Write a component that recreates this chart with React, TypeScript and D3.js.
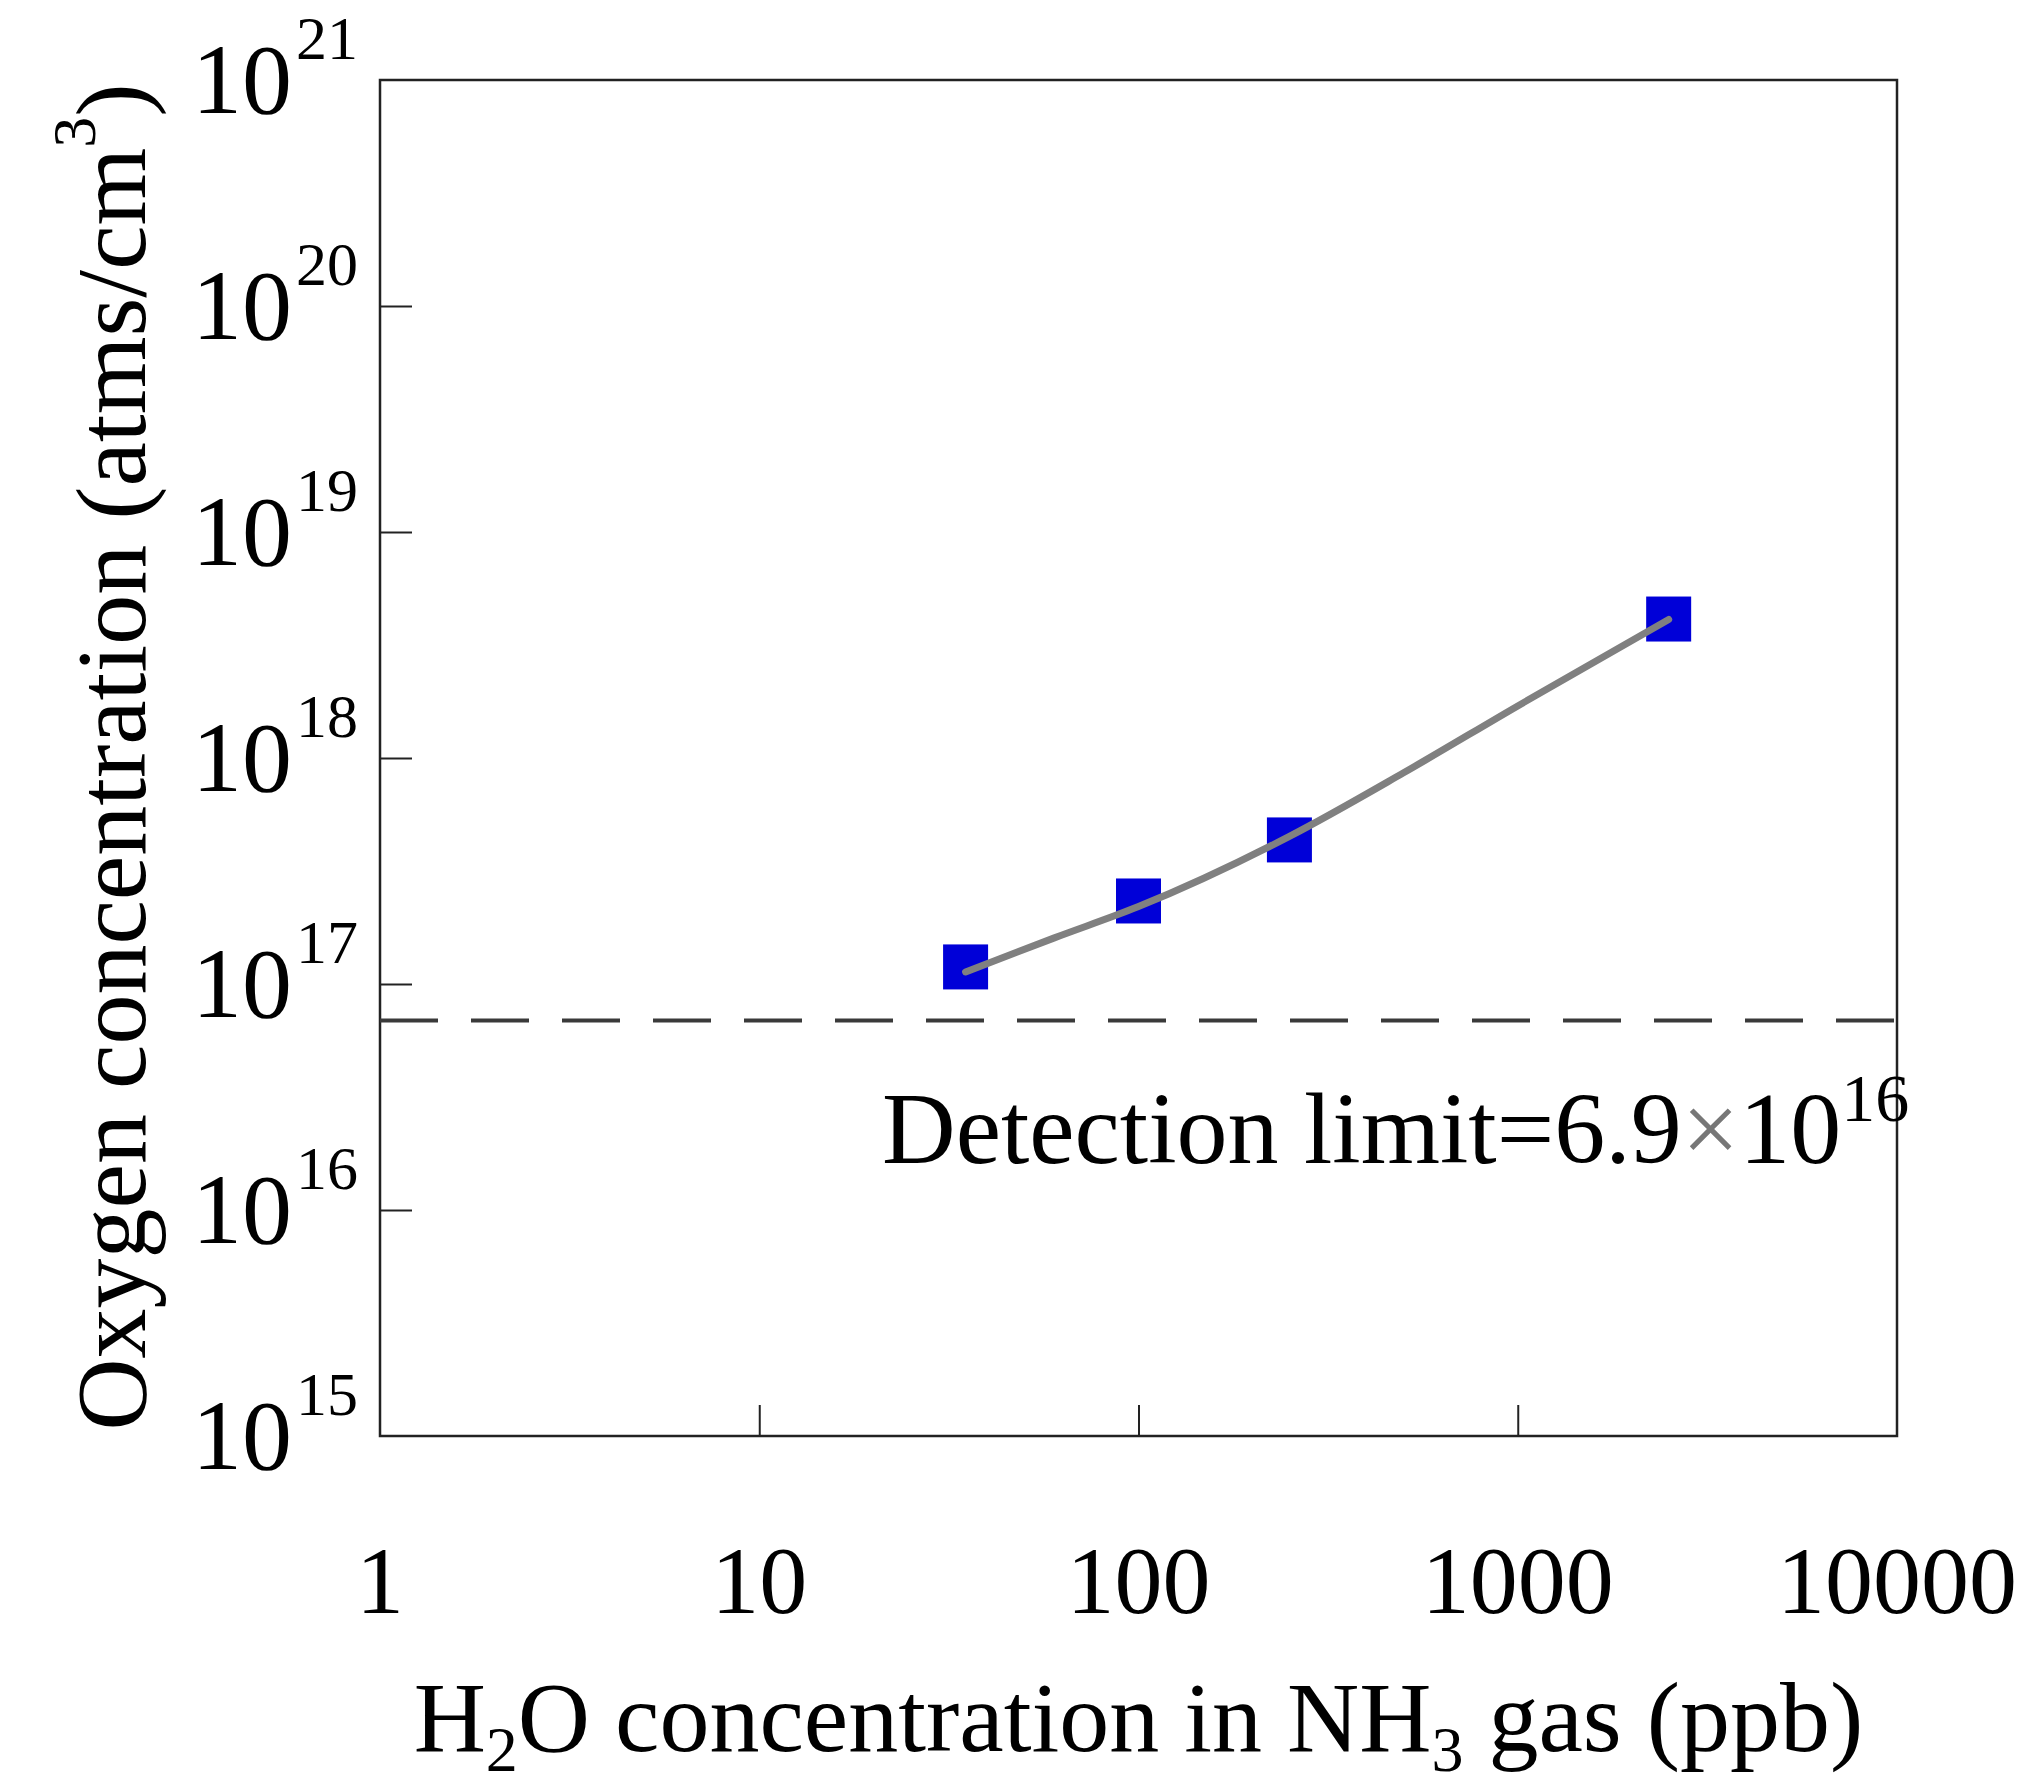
import React, { useRef, useEffect } from 'react';
import * as d3 from 'd3';

// measured squares
const h2oPpb = [35, 100, 250, 2500];
const oxygenConc = [1.19e17, 2.33e17, 4.34e17, 4.12e18];

// gray fit curve
const fitPpb = [35, 60, 100, 250, 500, 1000, 2500];
const fitConc = [1.13e17, 1.6e17, 2.2e17, 4.5e17, 8.6e17, 1.7e18, 4.1e18];

const detectionLimit = 6.9e16;

const xTickValues = [1, 10, 100, 1000, 10000];
const yExponents = [15, 16, 17, 18, 19, 20, 21];

const FONT = '"Liberation Serif", "Times New Roman", serif';

export default function App() {
	const svgWidth = 2020;
	const svgHeight = 1789;
	const ref = useRef<SVGSVGElement>(null);

	useEffect(() => {
		if (!ref.current) return;
		const margin = { top: 80, right: 123, bottom: 353, left: 380 };
		const width = svgWidth - margin.left - margin.right;
		const height = svgHeight - margin.top - margin.bottom;

		d3.select(ref.current).selectAll('*').remove();
		const svg = d3
			.select(ref.current)
			.append('g')
			.attr('transform', 'translate(' + margin.left + ',' + margin.top + ')')
			.style('font-family', FONT);

		const x = d3.scaleLog().domain([1, 10000]).range([0, width]);
		const y = d3.scaleLog().domain([1e15, 1e21]).range([height, 0]);

		/* inward ticks only, labels done by hand below */
		const xAxis = d3
			.axisBottom(x)
			.tickValues([10, 100, 1000])
			.tickSize(-31)
			.tickFormat(() => '');
		svg.append('g')
			.attr('transform', 'translate(0,' + height + ')')
			.call(xAxis)
			.call((g) => g.select('.domain').remove())
			.selectAll('line')
			.attr('stroke', '#222')
			.attr('stroke-width', 2);

		const yAxis = d3
			.axisLeft(y)
			.tickValues([1e16, 1e17, 1e18, 1e19, 1e20])
			.tickSize(-32)
			.tickFormat(() => '');
		svg.append('g')
			.call(yAxis)
			.call((g) => g.select('.domain').remove())
			.selectAll('line')
			.attr('stroke', '#222')
			.attr('stroke-width', 2);

		svg.append('rect')
			.attr('x', 0)
			.attr('y', 0)
			.attr('width', width)
			.attr('height', height)
			.attr('fill', 'none')
			.attr('stroke', '#222')
			.attr('stroke-width', 2.5);

		// x tick labels
		svg.selectAll('.xlab')
			.data(xTickValues)
			.enter()
			.append('text')
			.attr('x', (d) => x(d))
			.attr('y', height + 177)
			.attr('text-anchor', 'middle')
			.style('font-size', '96px')
			.text((d) => String(d));

		// y tick labels 10^n
		svg.selectAll('.ylab')
			.data(yExponents)
			.enter()
			.append('text')
			.attr('x', -88)
			.attr('y', (d) => y(Math.pow(10, d)) + 33)
			.attr('text-anchor', 'end')
			.style('font-size', '100px')
			.text('10');
		svg.selectAll('.ysup')
			.data(yExponents)
			.enter()
			.append('text')
			.attr('x', -84)
			.attr('y', (d) => y(Math.pow(10, d)) + 33 - 54)
			.style('font-size', '62px')
			.text((d) => String(d));

		// detection limit line
		svg.append('line')
			.attr('x1', 0)
			.attr('x2', width)
			.attr('y1', y(detectionLimit))
			.attr('y2', y(detectionLimit))
			.attr('stroke', '#3a3a3a')
			.attr('stroke-width', 4)
			.attr('stroke-dasharray', '58,33');

		const det = svg
			.append('text')
			.attr('x', 502)
			.attr('y', y(detectionLimit) + 143)
			.style('font-size', '102px');
		det.append('tspan').text('Detection limit=6.9');
		det.append('tspan').attr('fill', '#777').text('\u00d7');
		det.append('tspan').text('10');
		det.append('tspan').attr('dy', -42).style('font-size', '68px').text('16');

		// squares
		const size = 45;
		svg.selectAll('.pt')
			.data(h2oPpb)
			.enter()
			.append('rect')
			.attr('x', (d) => x(d) - size / 2)
			.attr('y', (d, i) => y(oxygenConc[i]) - size / 2)
			.attr('width', size)
			.attr('height', size)
			.attr('fill', '#0000d8');

		// fit curve
		const line = d3
			.line<number>()
			.x((d) => x(d))
			.y((d, i) => y(fitConc[i]))
			.curve(d3.curveMonotoneX);
		svg.append('path')
			.datum(fitPpb)
			.attr('d', line)
			.attr('fill', 'none')
			.attr('stroke', '#808080')
			.attr('stroke-width', 7)
			.attr('stroke-linecap', 'round');

		// axis titles
		const xt = svg
			.append('text')
			.attr('x', width / 2)
			.attr('y', height + 315)
			.attr('text-anchor', 'middle')
			.style('font-size', '100px');
		xt.append('tspan').text('H');
		xt.append('tspan').attr('dy', 20).style('font-size', '64px').text('2');
		xt.append('tspan').attr('dy', -20).text('O concentration in NH');
		xt.append('tspan').attr('dy', 20).style('font-size', '64px').text('3');
		xt.append('tspan').attr('dy', -20).text(' gas (ppb)');

		const yt = svg
			.append('text')
			.attr('text-anchor', 'middle')
			.attr('transform', 'translate(' + (145 - margin.left) + ',' + (757 - margin.top) + ') rotate(-90)')
			.style('font-size', '100px');
		yt.append('tspan').text('Oxygen concentration (atms/cm');
		yt.append('tspan').attr('dy', -50).style('font-size', '62px').text('3');
		yt.append('tspan').attr('dy', 50).text(')');
	}, []);

	return (
		<svg
			ref={ref}
			width={svgWidth}
			height={svgHeight}
			style={{ position: 'absolute', left: 0, top: 0, background: '#fff' }}
		/>
	);
}
